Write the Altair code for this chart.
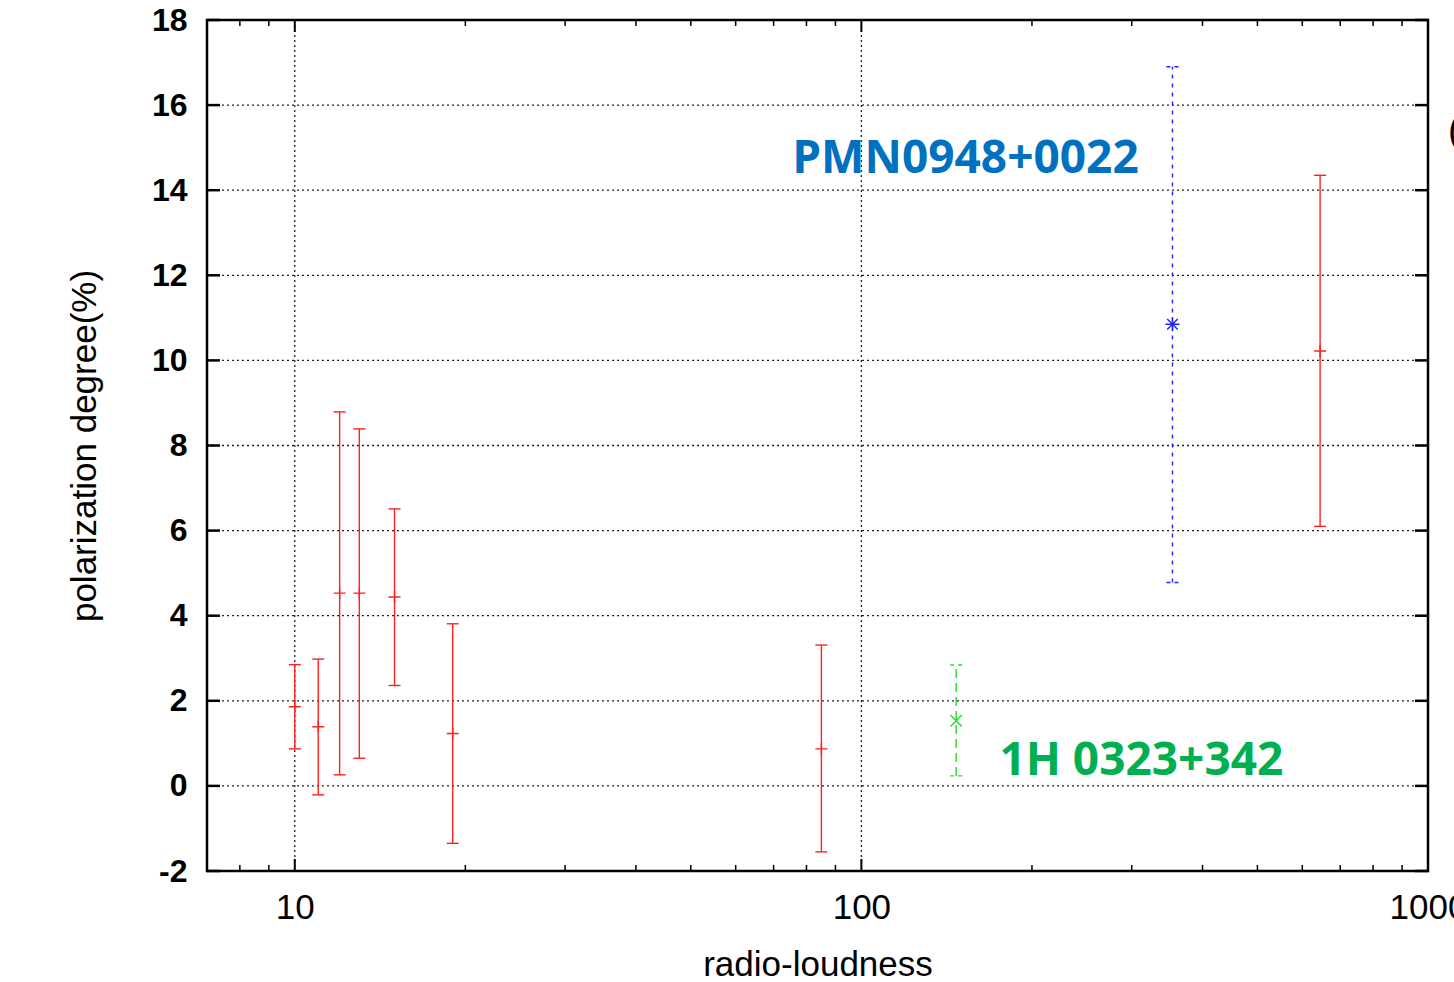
import altair as alt
import pandas as pd

# ---------------- data ----------------
red_x = [10.0, 11.0, 12.0, 13.0, 15.0, 19.0, 85.0, 645.0]
red_y = [1.86, 1.39, 4.53, 4.53, 4.44, 1.23, 0.87, 10.22]
red_lo = [0.87, -0.21, 0.26, 0.65, 2.36, -1.35, -1.55, 6.10]
red_hi = [2.85, 2.98, 8.79, 8.39, 6.51, 3.81, 3.31, 14.35]

green_x = [147.0]
green_y = [1.53]
green_lo = [0.235]
green_hi = [2.84]

blue_x = [354.0]
blue_y = [10.85]
blue_lo = [4.78]
blue_hi = [16.9]

label_text = ["PMN0948+0022", "1H 0323+342"]
label_x = [75.6, 175.2]
label_y = [14.41, 0.26]
label_color = ["#0070C0", "#00B050"]

frag_text = ["("]
frag_x = [1085.0]
frag_y = [15.37]

y_ticks = [-2, 0, 2, 4, 6, 8, 10, 12, 14, 16, 18]
y_grid = [0, 2, 4, 6, 8, 10, 12, 14, 16]
x_major = [10, 100, 1000]
x_grid = [10, 100]
x_minor = [8, 9, 20, 30, 40, 50, 60, 70, 80, 90,
           200, 300, 400, 500, 600, 700, 800, 900]

W, H = 1221, 851

red = pd.DataFrame({"x": red_x, "y": red_y, "lo": red_lo, "hi": red_hi})
green = pd.DataFrame({"x": green_x, "y": green_y, "lo": green_lo, "hi": green_hi})
blue = pd.DataFrame({"x": blue_x, "y": blue_y, "lo": blue_lo, "hi": blue_hi})
labels = pd.DataFrame({"x": label_x, "y": label_y, "t": label_text, "c": label_color})
frag = pd.DataFrame({"x": frag_x, "y": frag_y, "t": frag_text})
yt = pd.DataFrame({"v": y_ticks})
yg = pd.DataFrame({"v": y_grid})
xmj = pd.DataFrame({"v": x_major})
xg = pd.DataFrame({"v": x_grid})
xmn = pd.DataFrame({"v": x_minor})

xs = alt.Scale(type="log", domain=[7, 1000], nice=False)
ys = alt.Scale(domain=[-2, 18], nice=False, zero=False)

x_axis = alt.Axis(values=x_major, labelExpr="'' + datum.value", title="radio-loudness",
                  grid=False, domain=False, ticks=False, tickSize=0, labelPadding=19,
                  labelFlush=False, labelOverlap=False, labelFontSize=35,
                  labelFont="Liberation Sans", labelColor="black",
                  titleFont="Liberation Sans", titleFontSize=35, titleFontWeight="normal",
                  titleColor="black", titleX=W / 2, titleY=104, titleBaseline="alphabetic")
y_axis = alt.Axis(values=y_ticks, labelExpr="'' + datum.value",
                  title="polarization degree(%)", grid=False,
                  domain=False, ticks=False, tickSize=0, labelPadding=20,
                  labelFontSize=32, labelFontWeight="bold", labelFont="Liberation Sans",
                  labelColor="black", titleFont="Liberation Sans", titleFontSize=35,
                  titleFontWeight="normal", titleColor="black", titleX=-112,
                  titleY=H / 2, titleBaseline="alphabetic")


def X(f):
    return alt.X(f, type="quantitative", scale=xs, axis=x_axis)


def Y(f):
    return alt.Y(f, type="quantitative", scale=ys, axis=y_axis)


layers = []

# grid
layers.append(alt.Chart(yg).mark_rule(color="#222222", strokeWidth=1.3, strokeDash=[2, 3])
              .encode(y=Y("v"), x=alt.value(0), x2=alt.value(W)))
layers.append(alt.Chart(xg).mark_rule(color="#222222", strokeWidth=1.3, strokeDash=[2, 3])
              .encode(x=X("v"), y=alt.value(0), y2=alt.value(H)))

# inward ticks
layers.append(alt.Chart(yt).mark_rule(color="black", strokeWidth=2.5)
              .encode(y=Y("v"), x=alt.value(0), x2=alt.value(13)))
layers.append(alt.Chart(yt).mark_rule(color="black", strokeWidth=2.5)
              .encode(y=Y("v"), x=alt.value(W - 13), x2=alt.value(W)))
layers.append(alt.Chart(xmj).mark_rule(color="black", strokeWidth=2)
              .encode(x=X("v"), y=alt.value(H - 12), y2=alt.value(H)))
layers.append(alt.Chart(xmj).mark_rule(color="black", strokeWidth=2)
              .encode(x=X("v"), y=alt.value(0), y2=alt.value(12)))
layers.append(alt.Chart(xmn).mark_rule(color="black", strokeWidth=1.5)
              .encode(x=X("v"), y=alt.value(H - 6), y2=alt.value(H)))
layers.append(alt.Chart(xmn).mark_rule(color="black", strokeWidth=1.5)
              .encode(x=X("v"), y=alt.value(0), y2=alt.value(6)))


def errbars(df, color, dash, shape, size):
    kw = {"strokeDash": dash} if dash else {}
    out = []
    out.append(alt.Chart(df).mark_rule(color=color, strokeWidth=1.4, **kw)
               .encode(x=X("x"), y=Y("lo"), y2=alt.Y2("hi")))
    for f in ["lo", "hi"]:
        out.append(alt.Chart(df).mark_rule(color=color, strokeWidth=1.4, xOffset=-6,
                                           x2Offset=6, **({"strokeDash": [4, 4]} if dash else {}))
                   .encode(x=X("x"), x2=alt.X2("x"), y=Y(f)))
    out.append(alt.Chart(df).mark_point(shape=shape, filled=False, size=size, color=color,
                                        strokeWidth=1.4, opacity=1)
               .encode(x=X("x"), y=Y("y")))
    return out


layers += errbars(red, "#ff2020", None, "M-1,0L1,0M0,-1L0,1", 144)
layers += errbars(green, "#22dd22", [9, 5], "M-1,-1L1,1M-1,1L1,-1", 130)
layers += errbars(blue, "#2222ff", [4, 5],
                  "M-1,0L1,0M0,-1L0,1M-0.75,-0.75L0.75,0.75M-0.75,0.75L0.75,-0.75", 196)

layers.append(alt.Chart(labels).mark_text(font="Noto Sans", fontWeight="bold", fontSize=46,
                                          align="left", baseline="alphabetic")
              .encode(x=X("x"), y=Y("y"), text="t:N",
                      color=alt.Color("c:N", scale=None)))
layers.append(alt.Chart(frag).mark_text(font="Liberation Sans", fontSize=38, align="left",
                                        baseline="middle", color="black")
              .encode(x=X("x"), y=Y("y"), text="t:N"))

chart = alt.layer(*layers).properties(
    width=W, height=H,
    autosize=alt.AutoSizeParams(type="none"),
    padding={"left": 207, "top": 20, "right": 26, "bottom": 111},
    background="white",
).configure_view(stroke="black", strokeWidth=2.5)

chart.save("out.html", embed_options={"renderer": "svg", "actions": False})
